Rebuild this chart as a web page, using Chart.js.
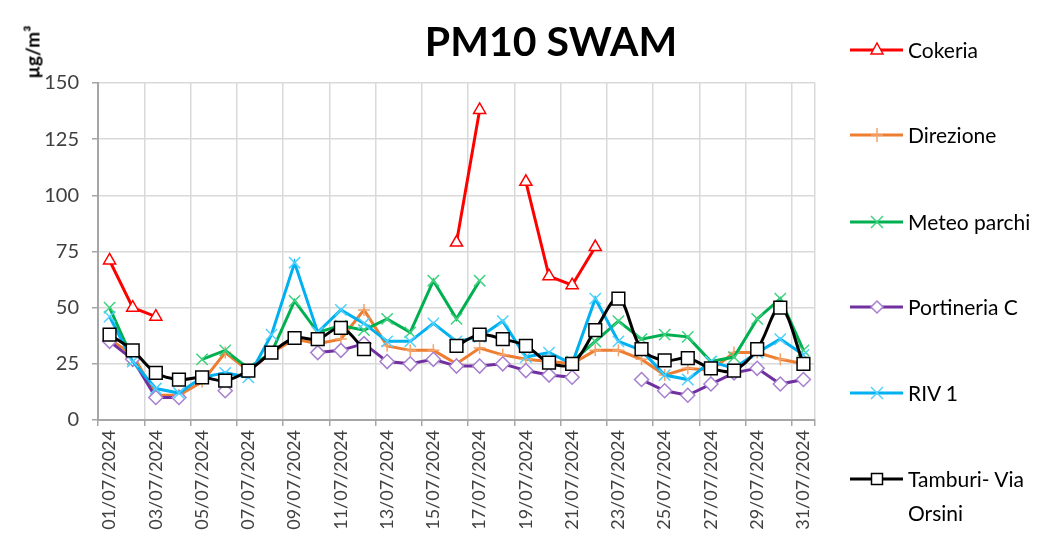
<!DOCTYPE html>
<html>
<head>
<meta charset="utf-8">
<title>PM10 SWAM</title>
<script src="https://cdn.jsdelivr.net/npm/chart.js@4.4.1/dist/chart.umd.min.js"></script>
<style>
  html, body { margin: 0; padding: 0; background: #fff; }
  #wrap { position: relative; width: 1058px; height: 542px; overflow: hidden; font-family: Lato, 'Open Sans', sans-serif; color: #000; }
  #chart { position: absolute; left: 0; top: 0; }
  #title { position: absolute; left: 551px; top: 16px; transform: translateX(-50%); font-weight: 700; font-size: 41px; white-space: nowrap; }
  #unit { position: absolute; left: 32px; top: 52px; transform: translate(-50%, -50%) rotate(-90deg); font-weight: 700; font-size: 19px; white-space: nowrap; }
  #legend { position: absolute; left: 850px; top: 0; }
  .lg-item { position: absolute; left: 0; display: flex; align-items: flex-start; font-size: 21px; line-height: 34px; white-space: nowrap; }
  .lg-item svg { margin-top: 7px; margin-right: 4px; flex-shrink: 0; }
</style>
</head>
<body>
<div id="wrap">
  <canvas id="chart" width="1058" height="542"></canvas>
  <div id="title">PM10 SWAM</div>
  <div id="unit">µg/m³</div>
  <div id="legend"></div>
</div>
<script>
// ------------------------------------------------------------
// data
// ------------------------------------------------------------
const days = [
  '01/07/2024', '02/07/2024', '03/07/2024', '04/07/2024', '05/07/2024', '06/07/2024',
  '07/07/2024', '08/07/2024', '09/07/2024', '10/07/2024', '11/07/2024', '12/07/2024',
  '13/07/2024', '14/07/2024', '15/07/2024', '16/07/2024', '17/07/2024', '18/07/2024',
  '19/07/2024', '20/07/2024', '21/07/2024', '22/07/2024', '23/07/2024', '24/07/2024',
  '25/07/2024', '26/07/2024', '27/07/2024', '28/07/2024', '29/07/2024', '30/07/2024',
  '31/07/2024'
];

const seriesNames = ['Cokeria', 'Direzione', 'Meteo parchi', 'Portineria C', 'RIV 1', 'Tamburi- Via Orsini'];

const cokeria = [71, 50, 46, null, null, null, null, null, null, null, null, null, null, null, null,
  79, 138, null, 106, 64, 60, 77, null, null, null, null, null, null, null, null, null];

const direzione = [36, 29, 11, 11, 17, 30, 22, 30, 36, 34, 36, 49, 33, 31, 31,
  25, 32, 29, 27, 26, 25, 31, 31, 27, 20, 23, 22, 30, 30, 27, 25];

const meteoParchi = [50, 27, null, null, 27, 31, 23, 30, 53, 39, 42, 40, 45, 39, 62,
  45, 62, null, null, null, 26, 35, 44, 36, 38, 37, 26, 28, 45, 54, 31];

const portineriaC = [35, 27, 10, 10, null, 13, null, null, null, 30, 31, 34, 26, 25, 27,
  24, 24, 25, 22, 20, 19, null, null, 18, 13, 11, 16, 21, 23, 16, 18];

const riv1 = [46, 26, 14, 12, 19, 21, 19, 38, 70, 39, 49, 43, 35, 35, 43,
  35, 37, 44, 28, 30, 25, 54, 35, 31, 20, 18, 26, 23, 30, 36, 29];

const tamburi = [38, 31, 21, 18, 19, 17.5, 22, 30, 36.5, 36, 41, 31.5, null, null, null,
  33, 38, 36, 33, 25.5, 25, 40, 54, 31.5, 26.5, 27.5, 23, 22, 31.5, 50, 25];

const yTicks = [0, 25, 50, 75, 100, 125, 150];

// ------------------------------------------------------------
// styles
// ------------------------------------------------------------
const colors  = ['#ff0000', '#ed7d31', '#00b050', '#7030a0', '#00b0f0', '#000000'];
const markers = ['triangle', 'cross', 'crossRot', 'rectRot', 'crossRot', 'rect'];
const radii   = [7, 6, 8, 7, 8, 9];
const fills   = ['#ffffff', null, null, '#ffffff', null, '#ffffff'];
const markerColors = ['#ff0000', '#f4a36a', '#3fd17f', '#a67fd0', '#4fd0ff', '#000000'];
const values  = [cokeria, direzione, meteoParchi, portineriaC, riv1, tamburi];

const FONT = "Lato, 'Open Sans', sans-serif";

function buildDatasets() {
  return values.map((data, i) => ({
    label: seriesNames[i],
    data,
    borderColor: colors[i],
    backgroundColor: fills[i] || markerColors[i],
    borderWidth: 3,
    pointStyle: markers[i],
    pointRadius: radii[i],
    pointBorderColor: markerColors[i],
    pointBackgroundColor: fills[i] || markerColors[i],
    pointBorderWidth: 1.5,
    tension: i === 5 ? 0.35 : 0,
    spanGaps: false,
    order: 6 - i,
  }));
}

// ------------------------------------------------------------
// legend (html, right side)
// ------------------------------------------------------------
function markerSvg(i) {
  const c = markerColors[i];
  let m = '';
  if (markers[i] === 'triangle') m = `<polygon points="27,3 33,14 21,14" fill="#fff" stroke="${c}" stroke-width="1.5"/>`;
  if (markers[i] === 'cross') m = `<line x1="27" y1="3" x2="27" y2="17" stroke="${c}" stroke-width="1.5"/><line x1="21" y1="10" x2="33" y2="10" stroke="${c}" stroke-width="1.5"/>`;
  if (markers[i] === 'crossRot') m = `<line x1="21" y1="4" x2="33" y2="16" stroke="${c}" stroke-width="1.5"/><line x1="33" y1="4" x2="21" y2="16" stroke="${c}" stroke-width="1.5"/>`;
  if (markers[i] === 'rectRot') m = `<polygon points="27,4 33,10 27,16 21,10" fill="#fff" stroke="${c}" stroke-width="1.5"/>`;
  if (markers[i] === 'rect') m = `<rect x="21.5" y="4.5" width="11" height="11" fill="#fff" stroke="${c}" stroke-width="1.5"/>`;
  return `<svg width="54" height="20"><line x1="0" y1="10" x2="53" y2="10" stroke="${colors[i]}" stroke-width="3"/>${m}</svg>`;
}

function renderLegend() {
  const tops = [33, 118, 205, 290, 376, 462];
  const el = document.getElementById('legend');
  el.innerHTML = seriesNames.map((name, i) => {
    const text = i === 5 ? 'Tamburi- Via<br>Orsini' : name;
    return `<div class="lg-item" style="top:${tops[i]}px">${markerSvg(i)}<span>${text}</span></div>`;
  }).join('');
}

// ------------------------------------------------------------
// chart
// ------------------------------------------------------------
function renderChart() {
  const ctx = document.getElementById('chart');
  new Chart(ctx, {
    type: 'line',
    data: { labels: days, datasets: buildDatasets() },
    options: {
      responsive: false,
      devicePixelRatio: 1,
      animation: false,
      layout: { padding: { top: 83, right: 243, left: 0, bottom: 0 } },
      plugins: {
        legend: { display: false },
        title: { display: false },
        tooltip: { enabled: false },
      },
      scales: {
        x: {
          offset: true,
          afterFit: s => { s.height = 122; },
          grid: {
            offset: true,
            lineWidth: 1.5,
            tickLength: 6,
            color: c => (c.index === undefined || c.index % 2 === 0) ? '#d9d9d9' : 'rgba(0,0,0,0)',
            tickColor: c => (c.index === undefined || c.index % 2 === 0) ? '#a6a6a6' : 'rgba(0,0,0,0)',
          },
          border: { color: '#a6a6a6', width: 2 },
          ticks: {
            autoSkip: false,
            maxRotation: 90,
            minRotation: 90,
            padding: 4,
            color: '#404040',
            font: { family: FONT, size: 18 },
            callback: (v, i) => i % 2 === 0 ? days[i] : '',
          },
        },
        y: {
          min: 0,
          max: 150,
          afterFit: s => { s.width = 98; },
          afterBuildTicks: s => { s.ticks = yTicks.map(v => ({ value: v })); },
          grid: { color: '#d9d9d9', lineWidth: 1.5, tickLength: 6, tickColor: '#a6a6a6' },
          border: { color: '#a6a6a6', width: 2 },
          ticks: {
            padding: 13,
            color: '#404040',
            font: { family: FONT, size: 20 },
          },
        },
      },
    },
  });
}

renderLegend();
renderChart();
</script>
</body>
</html>
